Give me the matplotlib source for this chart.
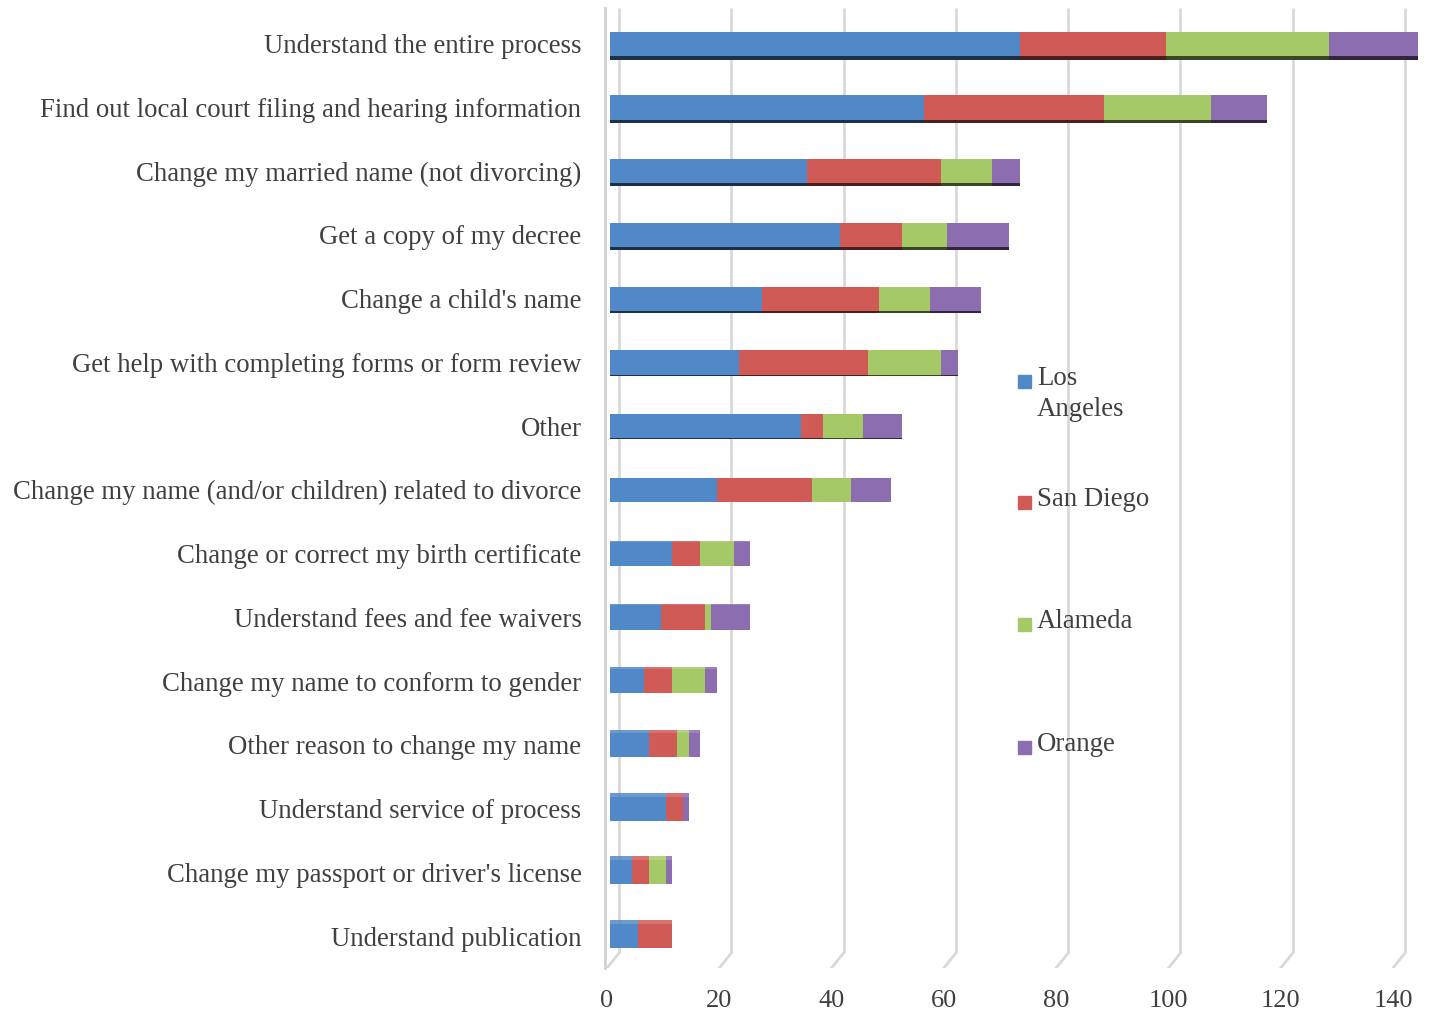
import numpy as np
import matplotlib
matplotlib.use("Agg")
import matplotlib.pyplot as plt
from matplotlib.transforms import ScaledTranslation, blended_transform_factory
from matplotlib.patches import Rectangle
from matplotlib.colors import to_rgb

categories = [
    "Understand the entire process",
    "Find out local court filing and hearing information",
    "Change my married name (not divorcing)",
    "Get a copy of my decree",
    "Change a child's name",
    "Get help with completing forms or form review",
    "Other",
    "Change my name (and/or children) related to divorce",
    "Change or correct my birth certificate",
    "Understand fees and fee waivers",
    "Change my name to conform to gender",
    "Other reason to change my name",
    "Understand service of process",
    "Change my passport or driver's license",
    "Understand publication",
]
los_angeles = [73, 56, 35, 41, 27, 23, 34, 19, 11, 9, 6, 7, 10, 4, 5]
san_diego = [26, 32, 24, 11, 21, 23, 4, 17, 5, 8, 5, 5, 3, 3, 6]
alameda = [29, 19, 9, 8, 9, 13, 7, 7, 6, 1, 6, 2, 0, 3, 0]
orange = [16, 10, 5, 11, 9, 3, 7, 7, 3, 7, 2, 2, 1, 1, 0]

series = ["Los Angeles", "San Diego", "Alameda", "Orange"]
legend_labels = ["Los\nAngeles", "San Diego", "Alameda", "Orange"]
colors = ["#5088C8", "#D05B56", "#A6C967", "#8B6DB0"]
x_ticks = [0, 20, 40, 60, 80, 100, 120, 140]

text_col = "#404040"
plt.rcParams["font.family"] = ["Liberation Serif", "DejaVu Serif"]

fig = plt.figure(figsize=(14.31, 10.13), dpi=100)
ax = fig.add_axes([605 / 1431, 45 / 1013, 820 / 1431, 960 / 1013])

y = np.arange(len(categories))
data = [los_angeles, san_diego, alameda, orange]
left = np.zeros(len(categories))
bar_h = 0.38
# fake 3D face thickness: dark under-face on top bars, lighter top-face lower down
face = (7 - y) / 7 * 0.07

def shade(c, f):
    r, g, b = to_rgb(c)
    return (r * f, g * f, b * f)

bar_off = ScaledTranslation(3 / 100, 0, fig.dpi_scale_trans)
for vals, col in zip(data, colors):
    vals = np.array(vals, dtype=float)
    parts = [ax.barh(y, vals, left=left, height=bar_h, color=col, zorder=3, linewidth=0)]
    under = face > 0
    parts.append(ax.barh(y[under] + bar_h / 2 + face[under] / 2, vals[under], left=left[under],
                         height=face[under], color=shade(col, 0.35), zorder=3, linewidth=0))
    over = face < 0
    parts.append(ax.barh(y[over] - bar_h / 2 + face[over] / 2, vals[over], left=left[over],
                         height=-face[over], color=col, alpha=0.85, zorder=3, linewidth=0))
    for bc in parts:
        for p in bc.patches:
            p.set_transform(ax.transData + bar_off)
    left = left + vals

ax.set_xlim(-0.36, 145.7)
ax.set_ylim(14.5, -0.56)
ax.set_yticks(y)
ax.set_yticklabels(categories, fontsize=19.3, color=text_col)
ax.set_xticks(x_ticks)
ax.set_xticklabels([str(t) for t in x_ticks], fontsize=19, color=text_col)
ax.tick_params(axis="y", length=0, pad=17)
ax.tick_params(axis="x", length=0, pad=16)

for s in ["top", "right", "bottom"]:
    ax.spines[s].set_visible(False)
ax.spines["left"].set_color("#d0d0d0")
ax.spines["left"].set_linewidth(2)

# back-wall gridlines, shifted right and joined to the front ticks with a slant
off = ScaledTranslation(12 / 100, 0, fig.dpi_scale_trans)
trans = blended_transform_factory(ax.transData, ax.transAxes)
for t in x_ticks:
    ax.plot([t, t], [15 / 960, 1.0], color="#d9d9d9", lw=2, zorder=1,
            transform=trans + off, solid_capstyle="butt")
    x0 = ax.transData.transform((t, 0))[0]
    ax.plot([x0, x0 + 12], [ax.transAxes.transform((0, 0))[1],
                            ax.transAxes.transform((0, 15 / 960))[1]],
            color="#d9d9d9", lw=2, transform=None, zorder=1)

# legend on the right
leg_y = [381, 502, 624, 747]
for lab, col, yy in zip(legend_labels, colors, leg_y):
    fig.patches.append(Rectangle((1018 / 1431, 1 - (yy + 7) / 1013), 13 / 1431, 13 / 1013,
                                 transform=fig.transFigure, color=col, zorder=5))
    fig.text(1037 / 1431, 1 - (yy - 15) / 1013, lab, fontsize=19.3, color=text_col,
             va="top", ha="left", linespacing=1.3)

fig.savefig("out.png", dpi=100)
